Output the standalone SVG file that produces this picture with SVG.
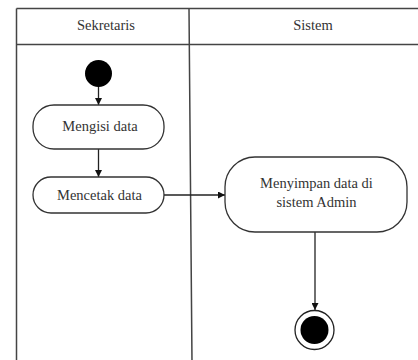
<svg xmlns="http://www.w3.org/2000/svg" width="418" height="360" viewBox="0 0 418 360">
<style>
.frame{fill:none;stroke:#444;stroke-width:1.5}
.box{fill:#fff;stroke:#333;stroke-width:1.3}
.t{font-family:"Liberation Serif","Times New Roman",serif;font-size:14.5px;fill:#333;text-anchor:middle}
.c{fill:none;stroke:#222;stroke-width:1.3}
</style>
<defs>
<marker id="ah" viewBox="0 0 10 10" refX="10" refY="5" markerWidth="7" markerHeight="7" markerUnits="userSpaceOnUse" orient="auto">
<path d="M0,0 L10,5 L0,10 z" fill="#111"/>
</marker>
</defs>
<rect width="418" height="360" fill="#fff"/>
<g id="swimlanes">
<path class="frame" d="M16.5,8.5 H420 M16.5,44.5 H420 M16.5,8.5 V362 M189,8.5 L192,362"/>
<text class="t" x="106" y="30">Sekretaris</text>
<text class="t" x="313" y="30">Sistem</text>
</g>
<g id="connectors">
<line class="c" x1="98.5" y1="86" x2="98.5" y2="105" marker-end="url(#ah)"/>
<line class="c" x1="98.5" y1="149" x2="98.5" y2="177" marker-end="url(#ah)"/>
<line class="c" x1="164" y1="195" x2="225" y2="195" marker-end="url(#ah)"/>
<line class="c" x1="315" y1="232" x2="315" y2="310" marker-end="url(#ah)"/>
</g>
<g id="start">
<circle cx="98.5" cy="73.5" r="13.5" fill="#000"/>
</g>
<g id="mengisi">
<rect class="box" x="33" y="105" width="131" height="44" rx="21"/>
<text class="t" x="100" y="131">Mengisi data</text>
</g>
<g id="mencetak">
<rect class="box" x="33" y="177" width="131" height="36" rx="18"/>
<text class="t" x="99.5" y="200">Mencetak data</text>
</g>
<g id="menyimpan">
<rect class="box" x="225" y="157" width="182" height="75" rx="30"/>
<text class="t" x="316.5" y="188">Menyimpan data di</text>
<text class="t" x="316.5" y="207">sistem Admin</text>
</g>
<g id="end">
<circle cx="314.5" cy="330" r="19.5" fill="#fff" stroke="#222" stroke-width="1.3"/>
<circle cx="314.5" cy="330" r="14" fill="#000"/>
</g>
</svg>
